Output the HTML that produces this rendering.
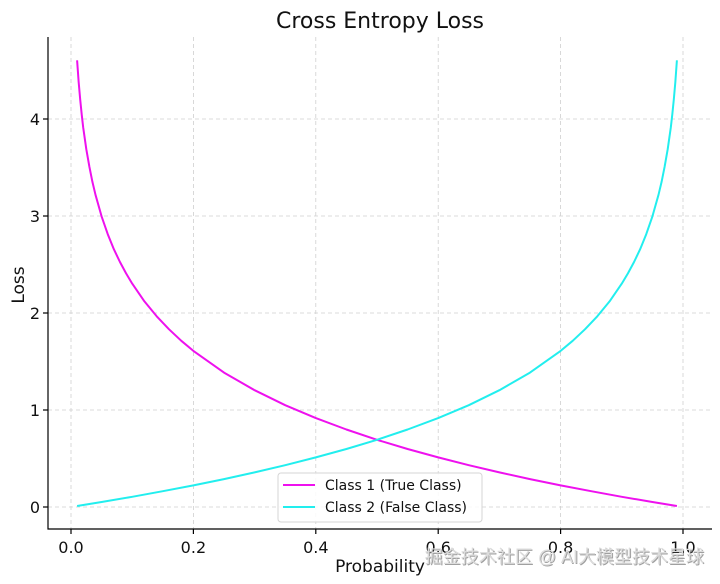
<!DOCTYPE html>
<html><head><meta charset="utf-8"><style>
body{margin:0;background:#fff;}
svg{display:block;font-family:"DejaVu Sans","Liberation Sans",sans-serif;}
</style></head><body>
<svg width="720" height="584" viewBox="0 0 720 584">
<g stroke="#cfcfcf" stroke-width="0.8" stroke-dasharray="4,3">
<line x1="71" y1="37" x2="71" y2="529"/><line x1="193.4" y1="37" x2="193.4" y2="529"/>
<line x1="315.8" y1="37" x2="315.8" y2="529"/><line x1="438.2" y1="37" x2="438.2" y2="529"/>
<line x1="560.6" y1="37" x2="560.6" y2="529"/><line x1="683" y1="37" x2="683" y2="529"/>
<line x1="48" y1="507" x2="712" y2="507"/><line x1="48" y1="410" x2="712" y2="410"/>
<line x1="48" y1="313" x2="712" y2="313"/><line x1="48" y1="216" x2="712" y2="216"/>
<line x1="48" y1="119" x2="712" y2="119"/>
</g>
<g stroke="#000" stroke-width="1.2">
<line x1="48" y1="37" x2="48" y2="529.5"/><line x1="47.5" y1="529" x2="712" y2="529"/>
<line x1="71" y1="529" x2="71" y2="534"/><line x1="193.4" y1="529" x2="193.4" y2="534"/>
<line x1="315.8" y1="529" x2="315.8" y2="534"/><line x1="438.2" y1="529" x2="438.2" y2="534"/>
<line x1="560.6" y1="529" x2="560.6" y2="534"/><line x1="683" y1="529" x2="683" y2="534"/>
<line x1="43" y1="507" x2="48" y2="507"/><line x1="43" y1="410" x2="48" y2="410"/>
<line x1="43" y1="313" x2="48" y2="313"/><line x1="43" y1="216" x2="48" y2="216"/>
<line x1="43" y1="119" x2="48" y2="119"/>
</g>
<polyline fill="none" stroke="#ee11ee" stroke-width="2" stroke-linejoin="round" points="77.1,60.3 78.65,81.9 80.2,99.6 81.71,114.5 83.2,127.5 86.3,149.2 89.4,166.8 92.42,181.9 95.5,194.8 101.6,216.4 107.72,234.1 113.8,249.1 119.96,262 126.08,273.4 132.2,283.6 144.44,301.4 156.68,316.3 168.92,329.2 181.16,340.7 193.4,350.9 224,372.6 254.6,390.2 285.2,405.2 315.8,418.1 346.4,429.5 377,439.8 407.6,449 438.2,457.4 468.8,465.2 499.4,472.4 530,479.1 560.6,485.4 591.2,491.2 621.8,496.8 652.4,502 676.9,506"/>
<polyline fill="none" stroke="#22eeee" stroke-width="2" stroke-linejoin="round" points="676.9,60.3 675.35,81.9 673.8,99.6 672.29,114.5 670.8,127.5 667.7,149.2 664.6,166.8 661.58,181.9 658.5,194.8 652.4,216.4 646.28,234.1 640.2,249.1 634.04,262 627.92,273.4 621.8,283.6 609.56,301.4 597.32,316.3 585.08,329.2 572.84,340.7 560.6,350.9 530,372.6 499.4,390.2 468.8,405.2 438.2,418.1 407.6,429.5 377,439.8 346.4,449 315.8,457.4 285.2,465.2 254.6,472.4 224,479.1 193.4,485.4 162.8,491.2 132.2,496.8 101.6,502 77.1,506"/>
<g font-size="16" fill="#111" text-anchor="middle">
<text x="71" y="553">0.0</text><text x="193.4" y="553">0.2</text><text x="315.8" y="553">0.4</text>
<text x="438.2" y="553">0.6</text><text x="560.6" y="553">0.8</text><text x="683" y="553">1.0</text>
</g>
<g font-size="16" fill="#111" text-anchor="end">
<text x="40" y="513">0</text><text x="40" y="416">1</text><text x="40" y="319">2</text>
<text x="40" y="222">3</text><text x="40" y="125">4</text>
</g>
<text x="380" y="28" font-size="22" text-anchor="middle" fill="#111">Cross Entropy Loss</text>
<text x="380" y="572" font-size="17" text-anchor="middle" fill="#111">Probability</text>
<text transform="translate(24,285) rotate(-90)" font-size="17" text-anchor="middle" fill="#111">Loss</text>
<rect x="278" y="473" width="204" height="49" rx="3" fill="#fff" fill-opacity="0.85" stroke="#d5d5d5"/>
<line x1="283" y1="485" x2="315" y2="485" stroke="#ee11ee" stroke-width="2"/>
<line x1="283" y1="507" x2="315" y2="507" stroke="#22eeee" stroke-width="2"/>
<g font-size="14" fill="#111"><text x="325" y="490">Class 1 (True Class)</text><text x="325" y="512">Class 2 (False Class)</text></g>
<text x="704" y="563" font-size="18" text-anchor="end" fill="#444" opacity="0.5" font-family="'Liberation Sans','Noto Sans CJK SC',sans-serif" transform="translate(1,1)">掘金技术社区 @ AI大模型技术星球</text>
<text x="704" y="563" font-size="18" text-anchor="end" fill="#dcdcdc" font-family="'Liberation Sans','Noto Sans CJK SC',sans-serif">掘金技术社区 @ AI大模型技术星球</text>
</svg>
</body></html>
